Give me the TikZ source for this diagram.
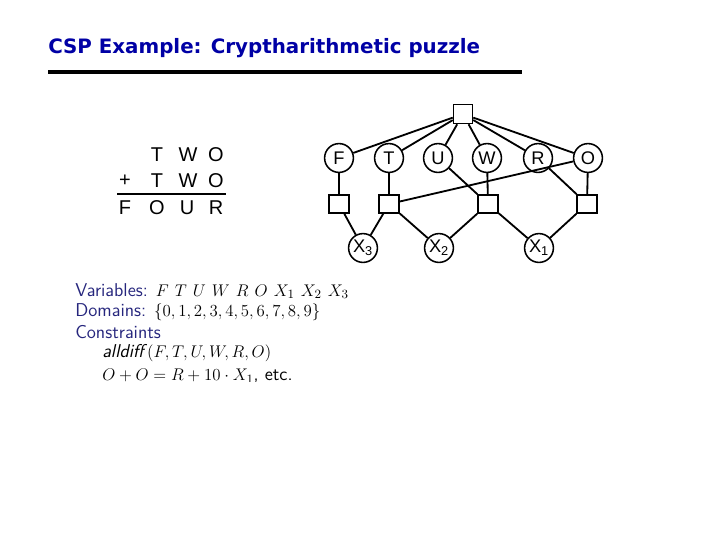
\documentclass[tikz,border=0pt]{standalone}
\usepackage{fontspec}
\usepackage{amsmath}
\newfontfamily\titlefont{DejaVu Sans}
\newfontfamily\helv{Liberation Sans}
\definecolor{titleblue}{RGB}{0,0,165}
\definecolor{structblue}{RGB}{38,38,125}
\tikzstyle{var} = [circle, draw, line width=1.1pt, minimum size=0.72cm, inner sep=0pt, font=\helv\fontsize{13}{15}\selectfont]
\tikzstyle{con} = [rectangle, draw, line width=1.1pt, minimum width=0.5cm, minimum height=0.45cm, inner sep=0pt]
\tikzstyle{digit} = [font=\helv\fontsize{14.2}{16}\selectfont, inner sep=0pt]
\tikzstyle{line} = [anchor=west, inner sep=0pt, font=\sffamily\fontsize{13.2}{15}\selectfont]

\begin{document}
\begin{tikzpicture}[x=0.025cm, y=-0.025cm]
\useasboundingbox (0,0) rectangle (720,540);
% title and rule
\node[anchor=west, inner sep=0pt, text=titleblue, font=\titlefont\bfseries\fontsize{14.1}{16}\selectfont] (title) at (48,48) {CSP Example: Cryptharithmetic puzzle};
\draw[line width=2.2pt] (48,72) -- (522,72);
% the sum
\foreach \ch/\x in {T/157, W/188, O/216}
    \node[digit] (a\ch) at (\x,155) {\ch};
\node[digit] (plus) at (125,181) {+};
\foreach \ch/\x in {T/157, W/188, O/216}
    \node[digit] (b\ch) at (\x,181) {\ch};
\draw[line width=0.9pt] (117,194) -- (226,194);
\foreach \ch/\x in {F/125, O/157, U/187, R/216}
    \node[digit] (s\ch) at (\x,208) {\ch};
% constraint graph
\node[con, minimum width=0.475cm, minimum height=0.475cm] (top) at (463,114) {};
\foreach \v/\x in {F/339, T/389, U/438, W/487, R/538, O/588}
    \node[var] (\v) at (\x,158) {\v};
\foreach \c/\x in {c1/339, c2/389, c3/488, c4/587}
    \node[con] (\c) at (\x,204) {};
\node[var] (x3) at (363,248) {X\textsubscript{3}};
\node[var] (x2) at (439,248) {X\textsubscript{2}};
\node[var] (x1) at (539,248) {X\textsubscript{1}};
\begin{scope}[line width=1.3pt]
\foreach \v in {F, T, U, W, R, O}
    \draw (top) -- (\v);
\draw (F) -- (c1);
\draw (T) -- (c2);
\draw (W) -- (c3);
\draw (O) -- (c4);
\draw (U) -- (c3);
\draw (R) -- (c4);
\draw (O) -- (c2);
\draw (c1) -- (x3);
\draw (c2) -- (x3);
\draw (c2) -- (x2);
\draw (c3) -- (x2);
\draw (c3) -- (x1);
\draw (c4) -- (x1);
\end{scope}
% the formulation, cut off at the bottom
\begin{scope}
\clip (0,0) rectangle (720,381);
\node[line] (vars) at (75,291) {\textcolor{structblue}{Variables:} $F\ T\ U\ W\ R\ O\ X_1\ X_2\ X_3$};
\node[line] (doms) at (75,312) {\textcolor{structblue}{Domains:} $\{0,1,2,3,4,5,6,7,8,9\}$};
\node[line] (cons) at (75,332) {\textcolor{structblue}{Constraints}};
\node[line] (alld) at (102,353) {\textit{alldiff}$(F,T,U,W,R,O)$};
\node[line] (sum) at (102,376) {$O+O=R+10\cdot X_1$, etc.};
\end{scope}
\end{tikzpicture}
\end{document}
